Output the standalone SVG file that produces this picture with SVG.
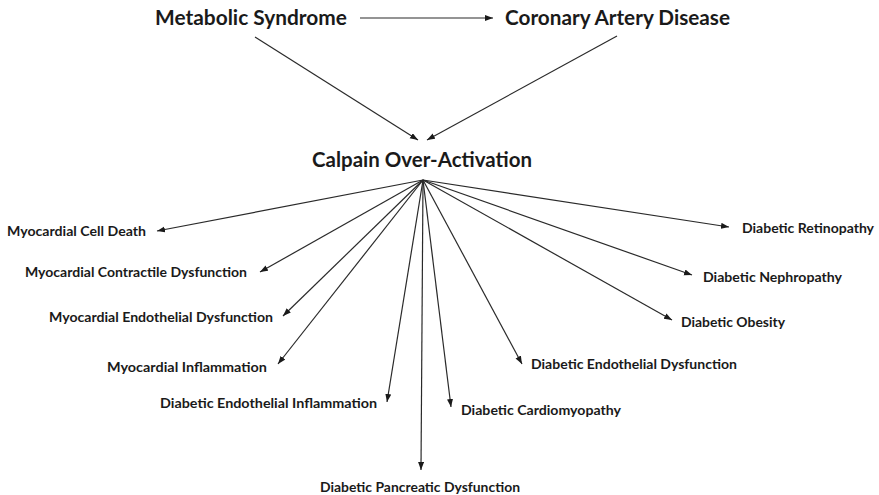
<svg xmlns="http://www.w3.org/2000/svg" width="879" height="495" viewBox="0 0 879 495">
<defs>
<marker id="ah" markerUnits="userSpaceOnUse" markerWidth="9" markerHeight="7" refX="8" refY="3" orient="auto">
<path d="M0,0 L8,3 L0,6 z" fill="#1a1a1a"/>
</marker>
<style>
.t{font-family:Lato,"Open Sans","Liberation Sans",sans-serif;font-weight:bold;fill:#1a1a1a}
.big{font-size:20px}
.lbl{font-size:13.5px}
.c line{stroke:#2a2a2a;stroke-width:1.2;fill:none;marker-end:url(#ah)}
</style>
</defs>
<rect width="879" height="495" fill="#fff"/>
<g class="c" id="connectors">
<line x1="360" y1="18" x2="493" y2="18"/>
<line x1="255" y1="37" x2="418" y2="140"/>
<line x1="617" y1="36" x2="427" y2="140"/>
<line x1="423" y1="180" x2="157" y2="231"/>
<line x1="423" y1="180" x2="260" y2="272"/>
<line x1="423" y1="180" x2="283" y2="316"/>
<line x1="423" y1="180" x2="278" y2="364"/>
<line x1="423" y1="180" x2="387" y2="402"/>
<line x1="423" y1="180" x2="421" y2="470"/>
<line x1="423" y1="180" x2="451" y2="407"/>
<line x1="423" y1="180" x2="522" y2="364"/>
<line x1="423" y1="180" x2="672" y2="320"/>
<line x1="423" y1="180" x2="692" y2="275"/>
<line x1="423" y1="180" x2="729" y2="227"/>
</g>
<g id="metabolic"><text class="t big" x="155" y="25" textLength="192" lengthAdjust="spacingAndGlyphs">Metabolic Syndrome</text></g>
<g id="cad"><text class="t big" x="505" y="25" textLength="225" lengthAdjust="spacingAndGlyphs">Coronary Artery Disease</text></g>
<g id="calpain"><text class="t big" x="312" y="167" textLength="220" lengthAdjust="spacingAndGlyphs">Calpain Over-Activation</text></g>
<g id="n1"><text class="t lbl" x="7" y="236" textLength="139" lengthAdjust="spacingAndGlyphs">Myocardial Cell Death</text></g>
<g id="n2"><text class="t lbl" x="25" y="277" textLength="222" lengthAdjust="spacingAndGlyphs">Myocardial Contractile Dysfunction</text></g>
<g id="n3"><text class="t lbl" x="49" y="322" textLength="224" lengthAdjust="spacingAndGlyphs">Myocardial Endothelial Dysfunction</text></g>
<g id="n4"><text class="t lbl" x="107" y="372" textLength="160" lengthAdjust="spacingAndGlyphs">Myocardial Inflammation</text></g>
<g id="n5"><text class="t lbl" x="160" y="408" textLength="217" lengthAdjust="spacingAndGlyphs">Diabetic Endothelial Inflammation</text></g>
<g id="n6"><text class="t lbl" x="320" y="492" textLength="200" lengthAdjust="spacingAndGlyphs">Diabetic Pancreatic Dysfunction</text></g>
<g id="n7"><text class="t lbl" x="461" y="415" textLength="160" lengthAdjust="spacingAndGlyphs">Diabetic Cardiomyopathy</text></g>
<g id="n8"><text class="t lbl" x="531" y="369" textLength="206" lengthAdjust="spacingAndGlyphs">Diabetic Endothelial Dysfunction</text></g>
<g id="n9"><text class="t lbl" x="681" y="327" textLength="104" lengthAdjust="spacingAndGlyphs">Diabetic Obesity</text></g>
<g id="n10"><text class="t lbl" x="703" y="282" textLength="139" lengthAdjust="spacingAndGlyphs">Diabetic Nephropathy</text></g>
<g id="n11"><text class="t lbl" x="742" y="233" textLength="132" lengthAdjust="spacingAndGlyphs">Diabetic Retinopathy</text></g>
</svg>
